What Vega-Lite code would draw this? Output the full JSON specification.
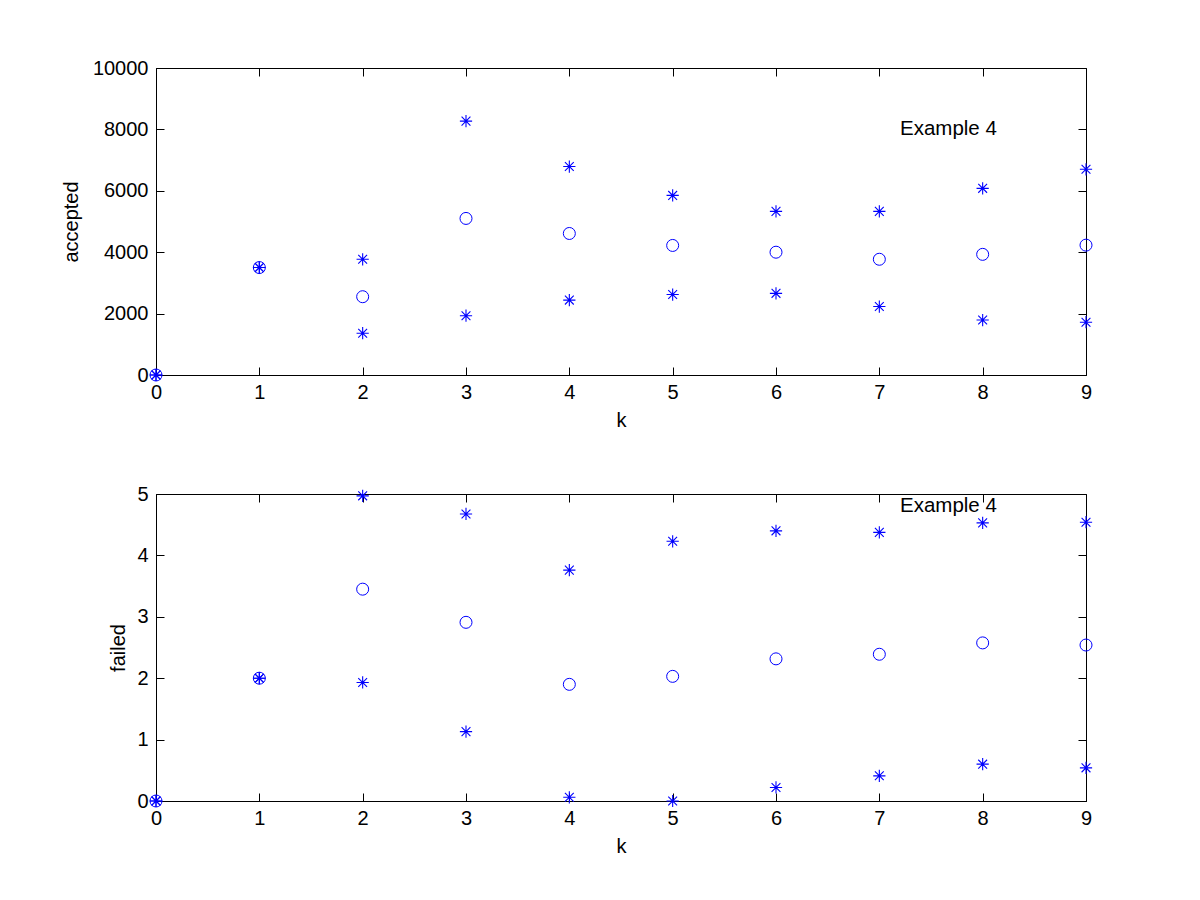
{
  "$schema": "https://vega.github.io/schema/vega-lite/v6.json",
  "background": "white",
  "autosize": {"type": "pad"},
  "padding": {"left": 60, "top": 57, "right": 20, "bottom": 20},
  "datasets": {
    "runs": [
      {"k": 0, "stat": "min", "accepted": 0, "failed": 0},
      {"k": 0, "stat": "mean", "accepted": 0, "failed": 0},
      {"k": 0, "stat": "max", "accepted": 0, "failed": 0},
      {"k": 1, "stat": "min", "accepted": 3500, "failed": 2},
      {"k": 1, "stat": "mean", "accepted": 3500, "failed": 2},
      {"k": 1, "stat": "max", "accepted": 3500, "failed": 2},
      {"k": 2, "stat": "min", "accepted": 1360, "failed": 1.93},
      {"k": 2, "stat": "mean", "accepted": 2550, "failed": 3.45},
      {"k": 2, "stat": "max", "accepted": 3770, "failed": 4.97},
      {"k": 3, "stat": "min", "accepted": 1930, "failed": 1.13},
      {"k": 3, "stat": "mean", "accepted": 5100, "failed": 2.91},
      {"k": 3, "stat": "max", "accepted": 8270, "failed": 4.675},
      {"k": 4, "stat": "min", "accepted": 2440, "failed": 0.06},
      {"k": 4, "stat": "mean", "accepted": 4610, "failed": 1.9},
      {"k": 4, "stat": "max", "accepted": 6790, "failed": 3.76},
      {"k": 5, "stat": "min", "accepted": 2620, "failed": 0.0},
      {"k": 5, "stat": "mean", "accepted": 4220, "failed": 2.03},
      {"k": 5, "stat": "max", "accepted": 5850, "failed": 4.23},
      {"k": 6, "stat": "min", "accepted": 2660, "failed": 0.22},
      {"k": 6, "stat": "mean", "accepted": 4000, "failed": 2.315},
      {"k": 6, "stat": "max", "accepted": 5330, "failed": 4.4},
      {"k": 7, "stat": "min", "accepted": 2230, "failed": 0.41},
      {"k": 7, "stat": "mean", "accepted": 3770, "failed": 2.39},
      {"k": 7, "stat": "max", "accepted": 5330, "failed": 4.375},
      {"k": 8, "stat": "min", "accepted": 1790, "failed": 0.6},
      {"k": 8, "stat": "mean", "accepted": 3930, "failed": 2.575},
      {"k": 8, "stat": "max", "accepted": 6080, "failed": 4.53},
      {"k": 9, "stat": "min", "accepted": 1720, "failed": 0.54},
      {"k": 9, "stat": "mean", "accepted": 4230, "failed": 2.54},
      {"k": 9, "stat": "max", "accepted": 6700, "failed": 4.54}
    ],
    "notes": [
      {"label": "Example 4", "k": 7.2, "accepted": 8000, "failed": 4.8}
    ]
  },
  "spacing": 119,
  "bounds": "flush",
  "vconcat": [
    {
      "width": 930,
      "height": 307,
      "layer": [
        {
          "data": {"name": "runs"},
          "transform": [{"filter": "datum.stat == 'mean'"}],
          "mark": {"type": "point", "shape": "circle", "filled": false, "color": "#0000FF", "size": 144, "strokeWidth": 1, "opacity": 1},
          "encoding": {
            "x": {"field": "k", "type": "quantitative", "scale": {"domain": [0, 9], "nice": false, "zero": false},
                  "axis": {"orient": "bottom", "title": "k", "values": [0,1,2,3,4,5,6,7,8,9], "labelPadding": 15, "titlePadding": 8}},
            "y": {"field": "accepted", "type": "quantitative", "scale": {"domain": [0, 10000], "nice": false},
                  "axis": {"orient": "left", "title": "accepted", "format": "d", "values": [0,2000,4000,6000,8000,10000], "labelPadding": 16, "titlePadding": 11}}
          }
        },
        {
          "data": {"name": "runs"},
          "transform": [{"filter": "datum.stat != 'mean'"}],
          "mark": {"type": "point", "shape": "M0,-1L0,1M-1,0L1,0M-0.72,-0.72L0.72,0.72M-0.72,0.72L0.72,-0.72", "filled": false, "color": "#0000FF", "size": 150, "strokeWidth": 1.1, "opacity": 1},
          "encoding": {
            "x": {"field": "k", "type": "quantitative",
                  "axis": {"orient": "top", "title": null, "labels": false, "domain": false, "values": [0,1,2,3,4,5,6,7,8,9]}},
            "y": {"field": "accepted", "type": "quantitative",
                  "axis": {"orient": "right", "title": null, "labels": false, "domain": false, "values": [0,2000,4000,6000,8000,10000]}}
          }
        },
        {
          "data": {"name": "notes"},
          "mark": {"type": "text", "align": "left", "baseline": "middle", "font": "Liberation Sans", "fontSize": 20.5, "color": "black"},
          "encoding": {
            "x": {"field": "k", "type": "quantitative", "axis": null},
            "y": {"field": "accepted", "type": "quantitative", "axis": null},
            "text": {"field": "label"}
          }
        }
      ],
      "resolve": {"axis": {"x": "independent", "y": "independent"}}
    },
    {
      "width": 930,
      "height": 307,
      "layer": [
        {
          "data": {"name": "runs"},
          "transform": [{"filter": "datum.stat == 'mean'"}],
          "mark": {"type": "point", "shape": "circle", "filled": false, "color": "#0000FF", "size": 144, "strokeWidth": 1, "opacity": 1},
          "encoding": {
            "x": {"field": "k", "type": "quantitative", "scale": {"domain": [0, 9], "nice": false, "zero": false},
                  "axis": {"orient": "bottom", "title": "k", "values": [0,1,2,3,4,5,6,7,8,9], "labelPadding": 15, "titlePadding": 8}},
            "y": {"field": "failed", "type": "quantitative", "scale": {"domain": [0, 5], "nice": false},
                  "axis": {"orient": "left", "title": "failed", "format": "d", "values": [0,1,2,3,4,5], "labelPadding": 16, "titlePadding": 8}}
          }
        },
        {
          "data": {"name": "runs"},
          "transform": [{"filter": "datum.stat != 'mean'"}],
          "mark": {"type": "point", "shape": "M0,-1L0,1M-1,0L1,0M-0.72,-0.72L0.72,0.72M-0.72,0.72L0.72,-0.72", "filled": false, "color": "#0000FF", "size": 150, "strokeWidth": 1.1, "opacity": 1},
          "encoding": {
            "x": {"field": "k", "type": "quantitative",
                  "axis": {"orient": "top", "title": null, "labels": false, "domain": false, "values": [0,1,2,3,4,5,6,7,8,9]}},
            "y": {"field": "failed", "type": "quantitative",
                  "axis": {"orient": "right", "title": null, "labels": false, "domain": false, "values": [0,1,2,3,4,5]}}
          }
        },
        {
          "data": {"name": "notes"},
          "mark": {"type": "text", "align": "left", "baseline": "middle", "font": "Liberation Sans", "fontSize": 20.5, "color": "black"},
          "encoding": {
            "x": {"field": "k", "type": "quantitative", "axis": null},
            "y": {"field": "failed", "type": "quantitative", "axis": null},
            "text": {"field": "label"}
          }
        }
      ],
      "resolve": {"axis": {"x": "independent", "y": "independent"}}
    }
  ],
  "config": {
    "font": "Liberation Sans",
    "view": {"stroke": "black", "strokeWidth": 1},
    "axis": {
      "grid": false,
      "labelFont": "Liberation Sans",
      "labelFontSize": 20,
      "labelColor": "black",
      "labelFlush": false,
      "labelOverlap": false,
      "titleFont": "Liberation Sans",
      "titleFontSize": 20,
      "titleFontWeight": "normal",
      "titleColor": "black",
      "domainColor": "black",
      "tickColor": "black",
      "tickSize": -8,
      "tickWidth": 1
    }
  }
}
